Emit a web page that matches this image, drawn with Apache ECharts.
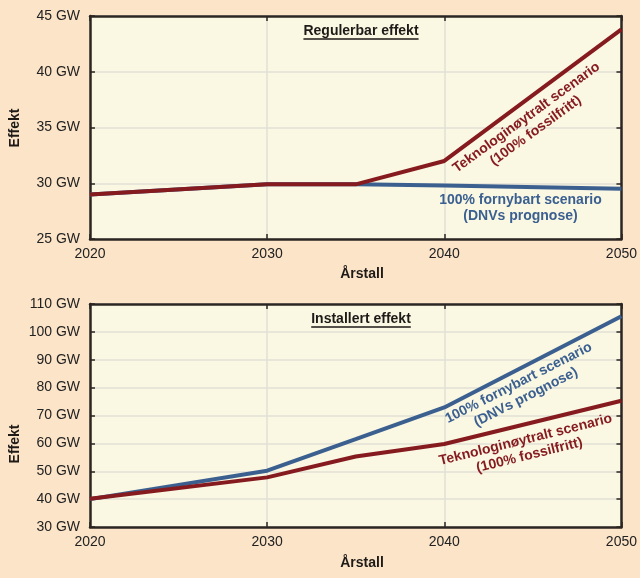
<!DOCTYPE html>
<html>
<head>
<meta charset="utf-8">
<script src="https://cdn.jsdelivr.net/npm/echarts@6/dist/echarts.min.js"></script>
<style>
html,body{margin:0;padding:0;background:#FCE4C8;}
#c{width:640px;height:578px;}
</style>
</head>
<body>
<div id="c"></div>
<script>
// ---- data ----
var years = [2020, 2030, 2035, 2040, 2050];
var regulerbarTekno = [29.0, 29.9, 29.9, 32.0, 43.8];
var regulerbarFornybar = [29.0, 29.9, 29.9, 29.8, 29.5];
var installertTekno = [40.1, 47.8, 55.3, 59.8, 75.3];
var installertFornybar = [40.0, 50.2, 61.5, 72.9, 105.6];
var topTitle = 'Regulerbar effekt';
var bottomTitle = 'Installert effekt';
var xName = 'Årstall';
var yName = 'Effekt';
var labelTekno = 'Teknologinøytralt scenario\n(100% fossilfritt)';
var labelFornybar = '100% fornybart scenario\n(DNVs prognose)';

function pairs(xs, ys){ return xs.map(function(x,i){ return [x, ys[i]]; }); }

var FONT = "'Liberation Sans', Arial, sans-serif";
var RED = '#861B1F';
var BLUE = '#3B6090';
var AX = '#2b2622';
var GRIDC = '#e2e0d6';

var grids = [
  {left: 90, right: 16, top: 16, height: 223},
  {left: 90, right: 16, top: 304, height: 223}
];

function xAxes(gi){
  return [
    {type:'value', gridIndex: gi, min:2020, max:2050, interval:10, position:'bottom',
     axisLine:{show:true, lineStyle:{color:AX, width:2.5}},
     axisTick:{show:true, inside:true, length:5, lineStyle:{color:AX, width:1.5}},
     axisLabel:{show:true, color:'#222', fontFamily:FONT, fontSize:14, margin:8,
                showMinLabel:true, showMaxLabel:true, formatter:function(v){return String(v);}},
     splitLine:{show:true, lineStyle:{color:GRIDC, width:1.5}}},
    {type:'value', gridIndex: gi, min:2020, max:2050, interval:10, position:'top',
     axisLine:{show:true, lineStyle:{color:AX, width:2.5}},
     axisTick:{show:true, inside:true, length:5, lineStyle:{color:AX, width:1.5}},
     axisLabel:{show:false}, splitLine:{show:false}}
  ];
}
function yAxes(gi, mn, mx, iv){
  return [
    {type:'value', gridIndex: gi, min:mn, max:mx, interval:iv, position:'left',
     axisLine:{show:true, lineStyle:{color:AX, width:2.5}},
     axisTick:{show:true, inside:true, length:5, lineStyle:{color:AX, width:1.5}},
     axisLabel:{show:true, color:'#222', fontFamily:FONT, fontSize:14, margin:10,
                formatter:'{value} GW'},
     splitLine:{show:true, lineStyle:{color:GRIDC, width:1.5}}},
    {type:'value', gridIndex: gi, min:mn, max:mx, interval:iv, position:'right',
     axisLine:{show:true, lineStyle:{color:AX, width:2.5}},
     axisTick:{show:true, inside:true, length:5, lineStyle:{color:AX, width:1.5}},
     axisLabel:{show:false}, splitLine:{show:false}}
  ];
}

var chart = echarts.init(document.getElementById('c'), null, {renderer:'canvas'});

function line(name, xi, yi, data, color){
  return {type:'line', name:name, xAxisIndex:xi, yAxisIndex:yi, data:data,
    symbol:'none', lineStyle:{color:color, width:4}, itemStyle:{color:color},
    animation:false, z:3};
}

chart.setOption({
  backgroundColor:'#FCE4C8',
  animation:false,
  grid: grids.map(function(g){ return Object.assign({show:true, backgroundColor:'#FAF7E3', borderColor:AX, borderWidth:0}, g); }),
  xAxis: xAxes(0).concat(xAxes(1)),
  yAxis: yAxes(0, 25, 45, 5).concat(yAxes(1, 30, 110, 10)),
  series: [
    line('fornybar-reg', 0, 0, pairs(years, regulerbarFornybar), BLUE),
    line('tekno-reg', 0, 0, pairs(years, regulerbarTekno), RED),
    line('fornybar-inst', 2, 2, pairs(years, installertFornybar), BLUE),
    line('tekno-inst', 2, 2, pairs(years, installertTekno), RED)
  ]
});

function px(gi, pt){
  return chart.convertToPixel({xAxisIndex: gi*2, yAxisIndex: gi*2}, pt);
}
var ctx = document.createElement('canvas').getContext('2d');
function measure(t, f){ ctx.font = f; return ctx.measureText(t).width; }

var g = [];
function titleEl(text, cx, cy){
  var f = 'bold 14px ' + FONT;
  var w = measure(text, f);
  g.push({type:'text', x:cx, y:cy, style:{text:text, font:f, fill:'#1e1a17', align:'center', verticalAlign:'middle'}});
  g.push({type:'line', shape:{x1:cx-w/2, y1:cy+8, x2:cx+w/2, y2:cy+8}, style:{stroke:'#1e1a17', lineWidth:1.5}});
}
titleEl(topTitle, 361, 31);
titleEl(bottomTitle, 361, 319);

function plainText(text, x, y, rot){
  g.push({type:'text', x:x, y:y, rotation:rot||0,
    style:{text:text, font:'bold 14px ' + FONT, fill:'#1e1a17', align:'center', verticalAlign:'middle'}});
}
plainText(xName, 362, 274);
plainText(xName, 362, 563);
plainText(yName, 15, 128, Math.PI/2);
plainText(yName, 15, 444, Math.PI/2);

function annot(gi, pt, text, color, deg){
  var p = px(gi, pt);
  g.push({type:'text', x:p[0], y:p[1], rotation: deg*Math.PI/180, z:10,
    style:{text:text, font:'bold 14px ' + FONT, fill:color, align:'center', verticalAlign:'middle', lineHeight:16}});
}
annot(0, [2044.9, 35.3], labelTekno, RED, 36);
annot(0, [2044.3, 27.8], labelFornybar, BLUE, 0);
annot(1, [2044.4, 79.1], labelFornybar, BLUE, 27);
annot(1, [2044.7, 58.5], labelTekno, RED, 14);

chart.setOption({graphic: g});
</script>
</body>
</html>
